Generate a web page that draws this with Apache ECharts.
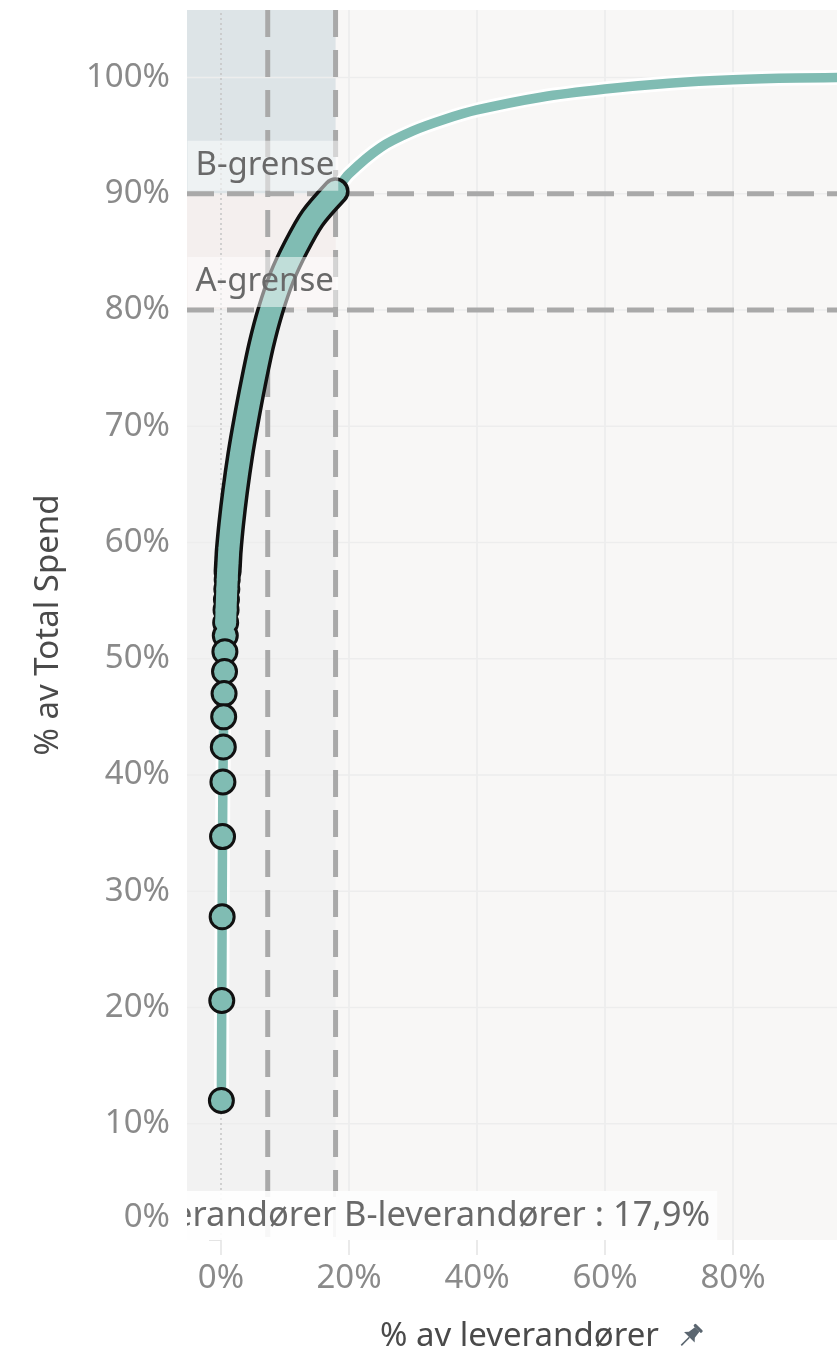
<!DOCTYPE html>
<html>
<head>
<meta charset="utf-8">
<script src="https://cdn.jsdelivr.net/npm/echarts@6/dist/echarts.min.js"></script>
<style>
  html, body { margin: 0; padding: 0; background: #ffffff; }
  #chart { width: 837px; height: 1361px; }
</style>
</head>
<body>
<div id="chart"></div>
<script>
// ---------- data ----------
// individual suppliers at the start of the Pareto curve (% of suppliers, % of total spend)
const supplierPctDiscrete = [0.06, 0.12, 0.18, 0.24, 0.30, 0.36, 0.42, 0.48, 0.55, 0.61,
                             0.67, 0.73, 0.79, 0.85, 0.91, 0.97, 1.03, 1.09, 1.15, 1.21];
const spendPctDiscrete    = [12.0, 20.6, 27.8, 34.7, 39.4, 42.4, 45.0, 47.0, 48.9, 50.6,
                             52.0, 53.1, 54.2, 55.1, 56.0, 56.8, 57.5, 58.1, 58.7, 59.3];
// dense A/B supplier part (markers merge into one band)
const supplierPctBand = [1.6, 2.2, 3.0, 3.9, 5.0, 6.3, 7.7, 9.5, 11.7, 14.3, 17.9];
const spendPctBand    = [61.6, 64.4, 67.5, 70.4, 73.6, 77.0, 79.9, 82.8, 85.4, 87.9, 90.2];
// remaining (C) suppliers
const supplierPctTail = [20, 25, 30, 35, 40, 50, 60, 70, 80, 90, 100];
const spendPctTail    = [91.7, 94.0, 95.4, 96.4, 97.2, 98.3, 99.0, 99.5, 99.8, 99.95, 100];

const xTickValues = [0, 20, 40, 60, 80];
const yTickValues = [0, 10, 20, 30, 40, 50, 60, 70, 80, 90, 100];
const xGridValues = [20, 40, 60, 80, 100];
const yGridValues = [10, 20, 30, 40, 50, 60, 70, 80, 90, 100];

const aLimitSupplierPct = 7.3;
const bLimitSupplierPct = 17.9;
const aLimitSpendPct = 80;
const bLimitSpendPct = 90;

const aGrenseLabel = 'A-grense';
const bGrenseLabel = 'B-grense';
const aLevLabel = 'A-leverandører : 7,3%';
const bLevLabel = 'B-leverandører : 17,9%';
const xAxisTitle = '% av leverandører';
const yAxisTitle = '% av Total Spend';

// ---------- axis extents ----------
const XMIN = -5.3125, XMAX = 105.625, YMIN = 0, YMAX = 105.8;

// ---------- build point tables ----------
const discretePts = supplierPctDiscrete.map((x, i) => [x, spendPctDiscrete[i]]);
const bandPts = supplierPctBand.map((x, i) => [x, spendPctBand[i]]);
const tailPts = supplierPctTail.map((x, i) => [x, spendPctTail[i]]);
const fullCurve = discretePts.concat(bandPts, tailPts);
const blackBand = discretePts.slice(16).concat(bandPts);
const tealBand = discretePts.slice(11).concat(bandPts);
const markerPts = discretePts.slice().reverse();

const TEAL = '#80bcb3';
const FONT = 'Noto Sans';

const pinSvg = "<svg xmlns='http://www.w3.org/2000/svg' width='28' height='28' viewBox='0 0 28 28'>" +
  "<g transform='rotate(45 14 14)' fill='#5b6670'>" +
  "<rect x='8.5' y='1' width='11' height='3.2' rx='1.2'/>" +
  "<path d='M10.8 4 h6.4 l1 7.5 l3.3 3.6 h-15 l3.3 -3.6 z'/>" +
  "<rect x='13.2' y='15' width='1.6' height='11.5'/></g></svg>";
const PIN = 'data:image/svg+xml;charset=utf-8,' + encodeURIComponent(pinSvg);

function refLine(pts, style, z) {
  return { type: 'line', data: pts, symbol: 'none', silent: true, z: z,
           lineStyle: style, animation: false };
}

const series = [];

// bands (markArea) on an invisible helper series
series.push({
  type: 'line', data: tailPts, symbol: 'none', silent: true, z: 1,
  lineStyle: { opacity: 0, width: 0 }, animation: false,
  markArea: {
    silent: true,
    data: [
      [{ xAxis: XMIN, itemStyle: { color: '#f2f2f2' } }, { xAxis: bLimitSupplierPct }],
      [{ xAxis: XMIN, yAxis: aLimitSpendPct, itemStyle: { color: '#f4efee' } }, { xAxis: bLimitSupplierPct, yAxis: bLimitSpendPct }],
      [{ xAxis: XMIN, yAxis: bLimitSpendPct, itemStyle: { color: '#dde4e7' } }, { xAxis: bLimitSupplierPct, yAxis: YMAX }]
    ]
  }
});

// grid lines
xGridValues.forEach(v => series.push(refLine([[v, YMIN], [v, YMAX]], { color: '#ebebeb', width: 1.5 }, 2)));
yGridValues.forEach(v => series.push(refLine([[XMIN, v], [XMAX, v]], { color: '#ededed', width: 1.5 }, 2)));
// zero line
series.push(refLine([[0, YMIN], [0, YMAX]], { color: '#c4c4c4', width: 1.5, type: [2, 3] }, 2.1));

// dashed reference lines
const dash = { color: '#a9a9a9', width: 5, type: [27, 13] };
series.push(refLine([[aLimitSupplierPct, YMAX], [aLimitSupplierPct, YMIN]], dash, 3));
series.push(refLine([[bLimitSupplierPct, YMAX], [bLimitSupplierPct, YMIN]], dash, 3));
series.push(refLine([[XMIN, aLimitSpendPct], [XMAX, aLimitSpendPct]], dash, 3));
series.push(refLine([[XMIN, bLimitSpendPct], [XMAX, bLimitSpendPct]], dash, 3));

// curve: white halo + thin teal line
series.push({ type: 'line', data: fullCurve, symbol: 'none', smooth: 0.3, silent: true, z: 3.5,
  lineStyle: { color: '#ffffff', width: 15, cap: 'round', join: 'round' }, animation: false });
series.push({ type: 'line', data: fullCurve, symbol: 'none', smooth: 0.3, silent: true, z: 3.6,
  lineStyle: { color: TEAL, width: 9.5, cap: 'round', join: 'round' }, animation: false });
// merged markers: black outline band
series.push({ type: 'line', data: blackBand, symbol: 'none', smooth: 0.3, silent: true, z: 3.7,
  lineStyle: { color: '#111111', width: 28, cap: 'round', join: 'round' }, animation: false });
// individual markers
series.push({ type: 'scatter', data: markerPts, symbol: 'circle', symbolSize: 24, silent: true, z: 3.8,
  itemStyle: { color: TEAL, borderColor: '#111111', borderWidth: 3, opacity: 1 }, animation: false });
// merged markers: teal fill band
series.push({ type: 'line', data: tealBand, symbol: 'none', smooth: 0.3, silent: true, z: 3.9,
  lineStyle: { color: TEAL, width: 21, cap: 'round', join: 'round' }, animation: false });

// reference labels: custom series clipped to the plot area
const refLabels = [
  { pos: [XMIN, bLimitSpendPct], text: bGrenseLabel, align: 'left', dy: -3, size: 33, pad: [5, 4, 5, 8], bg: 'rgba(255,255,255,0.5)' },
  { pos: [XMIN, aLimitSpendPct], text: aGrenseLabel, align: 'left', dy: -3, size: 33, pad: [5, 4, 5, 8], bg: 'rgba(255,255,255,0.5)' },
  { pos: [aLimitSupplierPct, YMIN], text: aLevLabel, align: 'center', dy: 1, size: 34.5, pad: [5, 8, 5, 8], bg: 'rgba(255,255,255,0.9)' },
  { pos: [bLimitSupplierPct, YMIN], text: bLevLabel, align: 'left', dy: 1, size: 34.5, pad: [5, 7, 5, 8], bg: '#fdfdfd' }
];
series.push({
  type: 'custom', clip: true, silent: true, z: 5, animation: false,
  data: refLabels.map(l => l.pos),
  renderItem: function (params, api) {
    const l = refLabels[params.dataIndex];
    const p = api.coord([api.value(0), api.value(1)]);
    return {
      type: 'text', x: p[0] + (l.align === 'left' ? 0.5 : 0), y: p[1] + l.dy,
      style: {
        text: l.text, fontFamily: FONT, fontSize: l.size, lineHeight: 40, fill: '#696969',
        align: l.align, verticalAlign: 'bottom', backgroundColor: l.bg, padding: l.pad
      }
    };
  }
});

const chart = echarts.init(document.getElementById('chart'), null, { renderer: 'canvas' });
chart.setOption({
  animation: false,
  backgroundColor: '#ffffff',
  textStyle: { fontFamily: FONT },
  grid: { left: 187, top: 10, width: 710, height: 1230, show: true, outerBoundsMode: 'none',
          backgroundColor: '#f8f7f6', borderWidth: 0, containLabel: false },
  xAxis: {
    type: 'value', min: XMIN, max: XMAX,
    name: xAxisTitle + '  {pin| }', nameLocation: 'middle', nameGap: 80,
    nameTextStyle: { fontFamily: FONT, fontSize: 33, color: '#4a4a4a',
      rich: { pin: { width: 28, height: 28, backgroundColor: { image: PIN } } } },
    axisLine: { show: false },
    axisTick: { show: true, customValues: xTickValues, length: 15, lineStyle: { color: '#e4e4e4', width: 1.5 } },
    splitLine: { show: false },
    axisLabel: { customValues: xTickValues, margin: 22, fontFamily: FONT, fontSize: 33, color: '#8a8a8a',
                 formatter: v => v + '%' }
  },
  yAxis: {
    type: 'value', min: YMIN, max: YMAX,
    name: yAxisTitle, nameLocation: 'middle', nameGap: 122, nameRotate: 90,
    nameTextStyle: { fontFamily: FONT, fontSize: 33, color: '#4a4a4a' },
    axisLine: { show: false },
    axisTick: { show: true, customValues: yTickValues, length: 12, lineStyle: { color: '#dcdcdc', width: 1.5 } },
    splitLine: { show: false },
    axisLabel: { customValues: yTickValues, margin: 17, fontFamily: FONT, fontSize: 33, color: '#8a8a8a',
                 formatter: v => v === 0 ? '{lift|0%}' : v + '%',
                 rich: { lift: { fontFamily: FONT, fontSize: 33, color: '#8a8a8a', padding: [0, 0, 44, 0] } } }
  },
  series: series
});
</script>
</body>
</html>
